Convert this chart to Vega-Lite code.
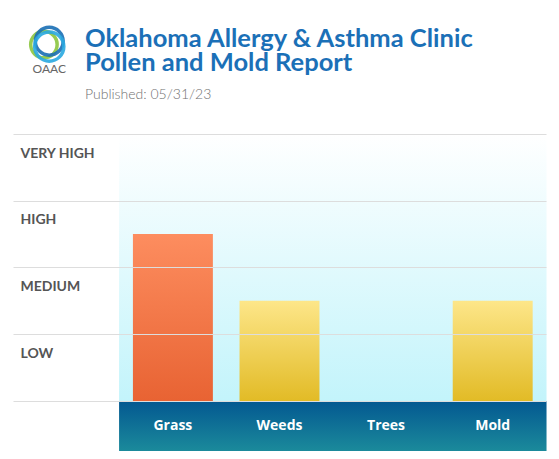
{
  "$schema": "https://vega.github.io/schema/vega-lite/v6.json",
  "autosize": {"type": "none"},
  "padding": {"left": 13, "top": 134, "right": 13, "bottom": 8},
  "width": 533,
  "height": 317,
  "background": "#ffffff",
  "config": {"font": "Lato", "view": {"stroke": null}},
  "title": {
    "text": ["Oklahoma Allergy & Asthma Clinic", "Pollen and Mold Report"],
    "subtitle": "Published: 05/31/23",
    "anchor": "start",
    "dx": 72,
    "offset": -82,
    "font": "Lato",
    "fontSize": 25.5,
    "fontWeight": "bold",
    "color": "#1b70b7",
    "lineHeight": 24,
    "subtitleFont": "Lato",
    "subtitleFontSize": 14,
    "subtitleFontWeight": 300,
    "subtitleColor": "#707070",
    "subtitlePadding": 12
  },
  "datasets": {
    "logo": [
      {"ring": "green", "cx": 0.29, "cy": 5.34},
      {"ring": "blue", "cx": 0.34, "cy": 5.39},
      {"ring": "light", "cx": 0.34, "cy": 5.31}
    ]
  },
  "data": {
    "values": [
      {"cat": "Grass", "value": 2.5},
      {"cat": "Weeds", "value": 1.5},
      {"cat": "Trees", "value": 0},
      {"cat": "Mold", "value": 1.5}
    ]
  },
  "encoding": {
    "x": {
      "field": "cat",
      "type": "nominal",
      "sort": null,
      "scale": {"domain": ["_", "Grass", "Weeds", "Trees", "Mold"], "paddingInner": 0, "paddingOuter": 0},
      "axis": null
    }
  },
  "layer": [
    {
      "mark": {
        "type": "bar",
        "width": {"band": 1.01},
        "color": {"gradient": "linear", "x1": 0, "y1": 0, "x2": 0, "y2": 1,
          "stops": [{"offset": 0, "color": "#ffffff"}, {"offset": 1, "color": "#c3f4fb"}]}
      },
      "encoding": {
        "y": {
          "datum": 4,
          "type": "quantitative",
          "scale": {"domain": [-0.75, 4], "nice": false, "zero": false},
          "axis": {
            "values": [0, 1, 2, 3, 4],
            "labelExpr": "datum.value == 4 ? 'VERY HIGH' : datum.value == 3 ? 'HIGH' : datum.value == 2 ? 'MEDIUM' : datum.value == 1 ? 'LOW' : ''",
            "grid": true,
            "gridColor": "#dddddd",
            "gridWidth": 1,
            "domain": false,
            "ticks": false,
            "title": null,
            "labelAlign": "left",
            "labelBaseline": "top",
            "labelPadding": -7,
            "labelOffset": 12,
            "labelFont": "Lato",
            "labelFontSize": 14,
            "labelFontWeight": "bold",
            "labelColor": "#555555",
            "zindex": 1
          }
        },
        "y2": {"datum": 0}
      }
    },
    {
      "mark": {
        "type": "bar",
        "width": {"band": 1.01},
        "color": {"gradient": "linear", "x1": 0, "y1": 0, "x2": 0, "y2": 1,
          "stops": [{"offset": 0, "color": "#035891"}, {"offset": 1, "color": "#1b8a9b"}]}
      },
      "encoding": {
        "y": {"datum": 0, "type": "quantitative"},
        "y2": {"datum": -0.75}
      }
    },
    {
      "transform": [{"filter": "datum.value >= 2"}],
      "mark": {
        "type": "bar",
        "width": {"band": 0.75},
        "color": {"gradient": "linear", "x1": 0, "y1": 0, "x2": 0, "y2": 1,
          "stops": [{"offset": 0, "color": "#fd8d5f"}, {"offset": 1, "color": "#e86333"}]}
      },
      "encoding": {
        "y": {"field": "value", "type": "quantitative"},
        "y2": {"datum": 0}
      }
    },
    {
      "transform": [{"filter": "datum.value > 0 && datum.value < 2"}],
      "mark": {
        "type": "bar",
        "width": {"band": 0.75},
        "color": {"gradient": "linear", "x1": 0, "y1": 0, "x2": 0, "y2": 1,
          "stops": [{"offset": 0, "color": "#fde689"}, {"offset": 1, "color": "#e2bb26"}]}
      },
      "encoding": {
        "y": {"field": "value", "type": "quantitative"},
        "y2": {"datum": 0}
      }
    },
    {
      "mark": {"type": "text", "font": "Open Sans", "fontSize": 14, "fontWeight": "bold", "color": "#ffffff", "baseline": "middle"},
      "encoding": {
        "y": {"datum": -0.375, "type": "quantitative"},
        "text": {"field": "cat"}
      }
    },
    {
      "data": {"name": "logo"},
      "mark": {"type": "point", "filled": false, "strokeWidth": 3.5, "opacity": 0.9, "clip": false},
      "encoding": {
        "x": {"field": "cx", "type": "quantitative", "scale": {"domain": [0, 1], "range": [0, 106.6]}, "axis": null},
        "y": {"field": "cy", "type": "quantitative"},
        "size": {"field": "ring", "type": "nominal", "scale": {"domain": ["green", "blue", "light"], "range": [700, 850, 480]}, "legend": null},
        "color": {"field": "ring", "type": "nominal", "scale": {"domain": ["green", "blue", "light"], "range": ["#8cc63f", "#1a6fb5", "#2aa9e0"]}, "legend": null}
      }
    },
    {
      "data": {"values": [{"t": "OAAC", "cx": 0.34, "cy": 4.97}]},
      "mark": {"type": "text", "font": "Lato", "fontSize": 12, "color": "#666666", "baseline": "middle", "clip": false},
      "encoding": {
        "x": {"field": "cx", "type": "quantitative", "scale": {"domain": [0, 1], "range": [0, 106.6]}, "axis": null},
        "y": {"field": "cy", "type": "quantitative"},
        "text": {"field": "t"}
      }
    }
  ]
}
